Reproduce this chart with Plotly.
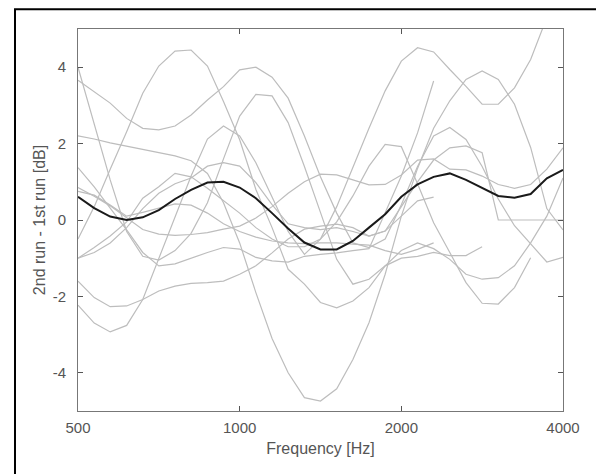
import plotly.graph_objs as go

# frequency points (Hz), 1/10 octave spacing
freqs = [500, 536, 574, 616, 660, 707, 758, 812, 871, 933, 1000, 1072, 1149, 1231, 1320,
         1414, 1516, 1625, 1741, 1866, 2000, 2144, 2297, 2462, 2639, 2828, 3031, 3249,
         3482, 3732, 4000]

# individual differences (2nd run - 1st run), dB
run_1 = [4.0, 2.5, 1.05, -0.3, -0.95, -1.05, -0.8, -0.35, 0.45, 1.6, 2.72, 3.29, 3.25, 2.55, 1.4,
         0.2, -1.03, -1.68, -1.55, -1.2, -1.0, -0.95, -0.85, -0.93, -0.93, -0.7,
         None, None, None, None, None]
run_2 = [3.66, 3.35, 3.06, 2.66, 2.4, 2.36, 2.46, 2.75, 3.14, 3.49, 3.93, 4.0, 3.74, 3.19, 2.2,
         1.13, 0.18, -0.6, -0.72, -0.5, 0.4, 1.4, 2.2, 2.42, 2.11, 1.4, 0.55, -0.15, -0.63, -1.1, -0.98]
run_3 = [-0.5, 0.35, 1.33, 2.31, 3.32, 4.03, 4.42, 4.45, 4.03, 3.1, 2.1, 0.8, -0.2, -1.29, -1.68,
         -2.16, -2.3, -2.12, -1.77, -1.2, -0.8, -0.6, -0.75, -1.03, -1.42, -1.55, -1.51, -1.2, -0.6, 0.1, 1.1]
run_4 = [2.2, 2.12, 2.02, 1.93, 1.84, 1.76, 1.68, 1.55, 1.22, 0.45, -0.6, -1.9, -3.1, -4.0, -4.65,
         -4.74, -4.42, -3.65, -2.69, -1.42, 0.1, 1.35, 2.4, 3.12, 3.68, 3.9, 3.68, 3.03, 1.9, 0.3, -0.26]
run_5 = [1.37, 0.87, 0.31, -0.26, -0.85, -1.2, -1.15, -1.0, -0.85, -0.72, -0.76, -0.98, -1.07, -1.1, -0.95,
         -0.9, -0.86, -0.8, -0.75, 0.19, 1.15, 2.28, 3.64,
         None, None, None, None, None, None, None, None]
run_6 = [0.85, 0.62, 0.37, 0.05, -0.25, -0.37, -0.4, -0.38, -0.33, -0.24, -0.16, 0.05, 0.35, 0.7, 1.0,
         1.2, 1.18, 1.05, 0.92, 0.93, 1.18, 1.57, 1.6, 1.33, 1.31, 1.15, 0.93, 0.83, 0.93, 1.33, 1.89]
run_7 = [0.75, 0.65, 0.39, 0.1, 0.2, 0.31, 0.42, 0.39, 0.18, -0.1, -0.3, -0.45, -0.55, -0.6, -0.62,
         -0.6, -0.6, -0.63, -0.66, -0.8, -0.9, -0.77, -0.6,
         None, None, None, None, None, None, None, None]
run_8 = [-1.0, -0.72, -0.42, -0.05, 0.57, 0.87, 1.22, 1.13, 0.83, 0.5, 0.18, -0.2, -0.5, -0.7, -0.7,
         -0.5, -0.05, 0.63, 1.41, 1.98, 1.92, 0.95, -0.07, -0.85, -1.64, -2.18, -2.2, -1.77, -0.99,
         None, None]
run_9 = [-1.6, -2.03, -2.27, -2.25, -2.08, -1.86, -1.73, -1.66, -1.64, -1.6, -1.42, -1.2, -0.86, -0.5, -0.24,
         -0.16, -0.11, -0.2, -0.42, -0.29, 0.35, 1.0, 1.57, 1.89, 1.94, 1.76, 0.0, 0.0, 0.0, 0.0, 0.0]
run_10 = [-2.23, -2.7, -2.93, -2.76, -2.08, -1.0, 0.1, 1.15, 2.12, 2.46, 2.2, 1.5, 0.6, -0.3, -0.9,
          -0.5, 0.35, 1.4, 2.4, 3.38, 4.16, 4.51, 4.4, 3.94, 3.5, 3.03, 3.03, 3.46, 4.2, 5.3, 6.3]
run_11 = [-1.0, -0.85, -0.6, -0.2, 0.3, 0.7, 0.95, 1.1, 1.41, 1.5, 1.41, 0.98, 0.4, -0.1, -0.2,
          -0.25, -0.2, -0.3, -0.42, -0.29, 0.1, 0.5, 0.6,
          None, None, None, None, None, None, None, None]

# mean difference
mean_diff = [0.61, 0.31, 0.09, 0.0, 0.07, 0.26, 0.55, 0.79, 0.98, 1.0, 0.85, 0.57, 0.18, -0.22, -0.59,
             -0.77, -0.77, -0.55, -0.2, 0.15, 0.61, 0.93, 1.13, 1.22, 1.05, 0.83, 0.63, 0.58, 0.68, 1.09, 1.31]

x_ticks = [500, 1000, 2000, 4000]
x_tick_labels = ['500', '1000', '2000', '4000']
y_ticks = [-4, -2, 0, 2, 4]
y_tick_labels = ['-4', '-2', '0', '2', '4']

runs = [run_1, run_2, run_3, run_4, run_5, run_6, run_7, run_8, run_9, run_10, run_11]

fig = go.Figure()
for r in runs:
    fig.add_trace(go.Scatter(
        x=freqs, y=r, mode='lines',
        line=dict(color='#bdbdbd', width=1.2),
        connectgaps=False, hoverinfo='skip'
    ))

fig.add_trace(go.Scatter(
    x=freqs, y=mean_diff, mode='lines',
    line=dict(color='#1a1a1a', width=2)
))

axis_font = dict(family='Liberation Sans, Arial, sans-serif', size=15, color='#555555')
title_font = dict(family='Liberation Sans, Arial, sans-serif', size=16, color='#555555')

fig.update_layout(
    width=596, height=474,
    margin=dict(l=78, r=33, t=29, b=63),
    paper_bgcolor='white', plot_bgcolor='white',
    showlegend=False,
    font=axis_font,
    xaxis=dict(
        type='log', range=[2.69897, 3.60206],
        tickvals=x_ticks, ticktext=x_tick_labels,
        ticks='inside', ticklen=5, tickcolor='#555555',
        showline=True, linecolor='#777777', linewidth=1, mirror='ticks',
        showgrid=False, zeroline=False, automargin=False,
        title=dict(text='Frequency [Hz]', font=title_font, standoff=7),
        ticklabelstandoff=3,
    ),
    yaxis=dict(
        range=[-5, 5],
        tickvals=y_ticks, ticktext=y_tick_labels,
        ticks='inside', ticklen=5, tickcolor='#555555',
        showline=True, linecolor='#777777', linewidth=1, mirror='ticks',
        showgrid=False, zeroline=False, automargin=False,
        title=dict(text='2nd run - 1st run [dB]', font=title_font, standoff=3),
        ticklabelstandoff=8,
    ),
    shapes=[dict(
        type='rect', xref='paper', yref='paper',
        x0=-0.1299, x1=1.08, y0=-0.2, y1=1.052,
        line=dict(color='black', width=2), fillcolor='rgba(0,0,0,0)',
        layer='above'
    )],
)

# the page body has a default 8px margin; drop it so the figure sits at the window origin
fig.write_html("out.html", config=dict(displayModeBar=False),
               post_script="document.body.style.margin='0';")
